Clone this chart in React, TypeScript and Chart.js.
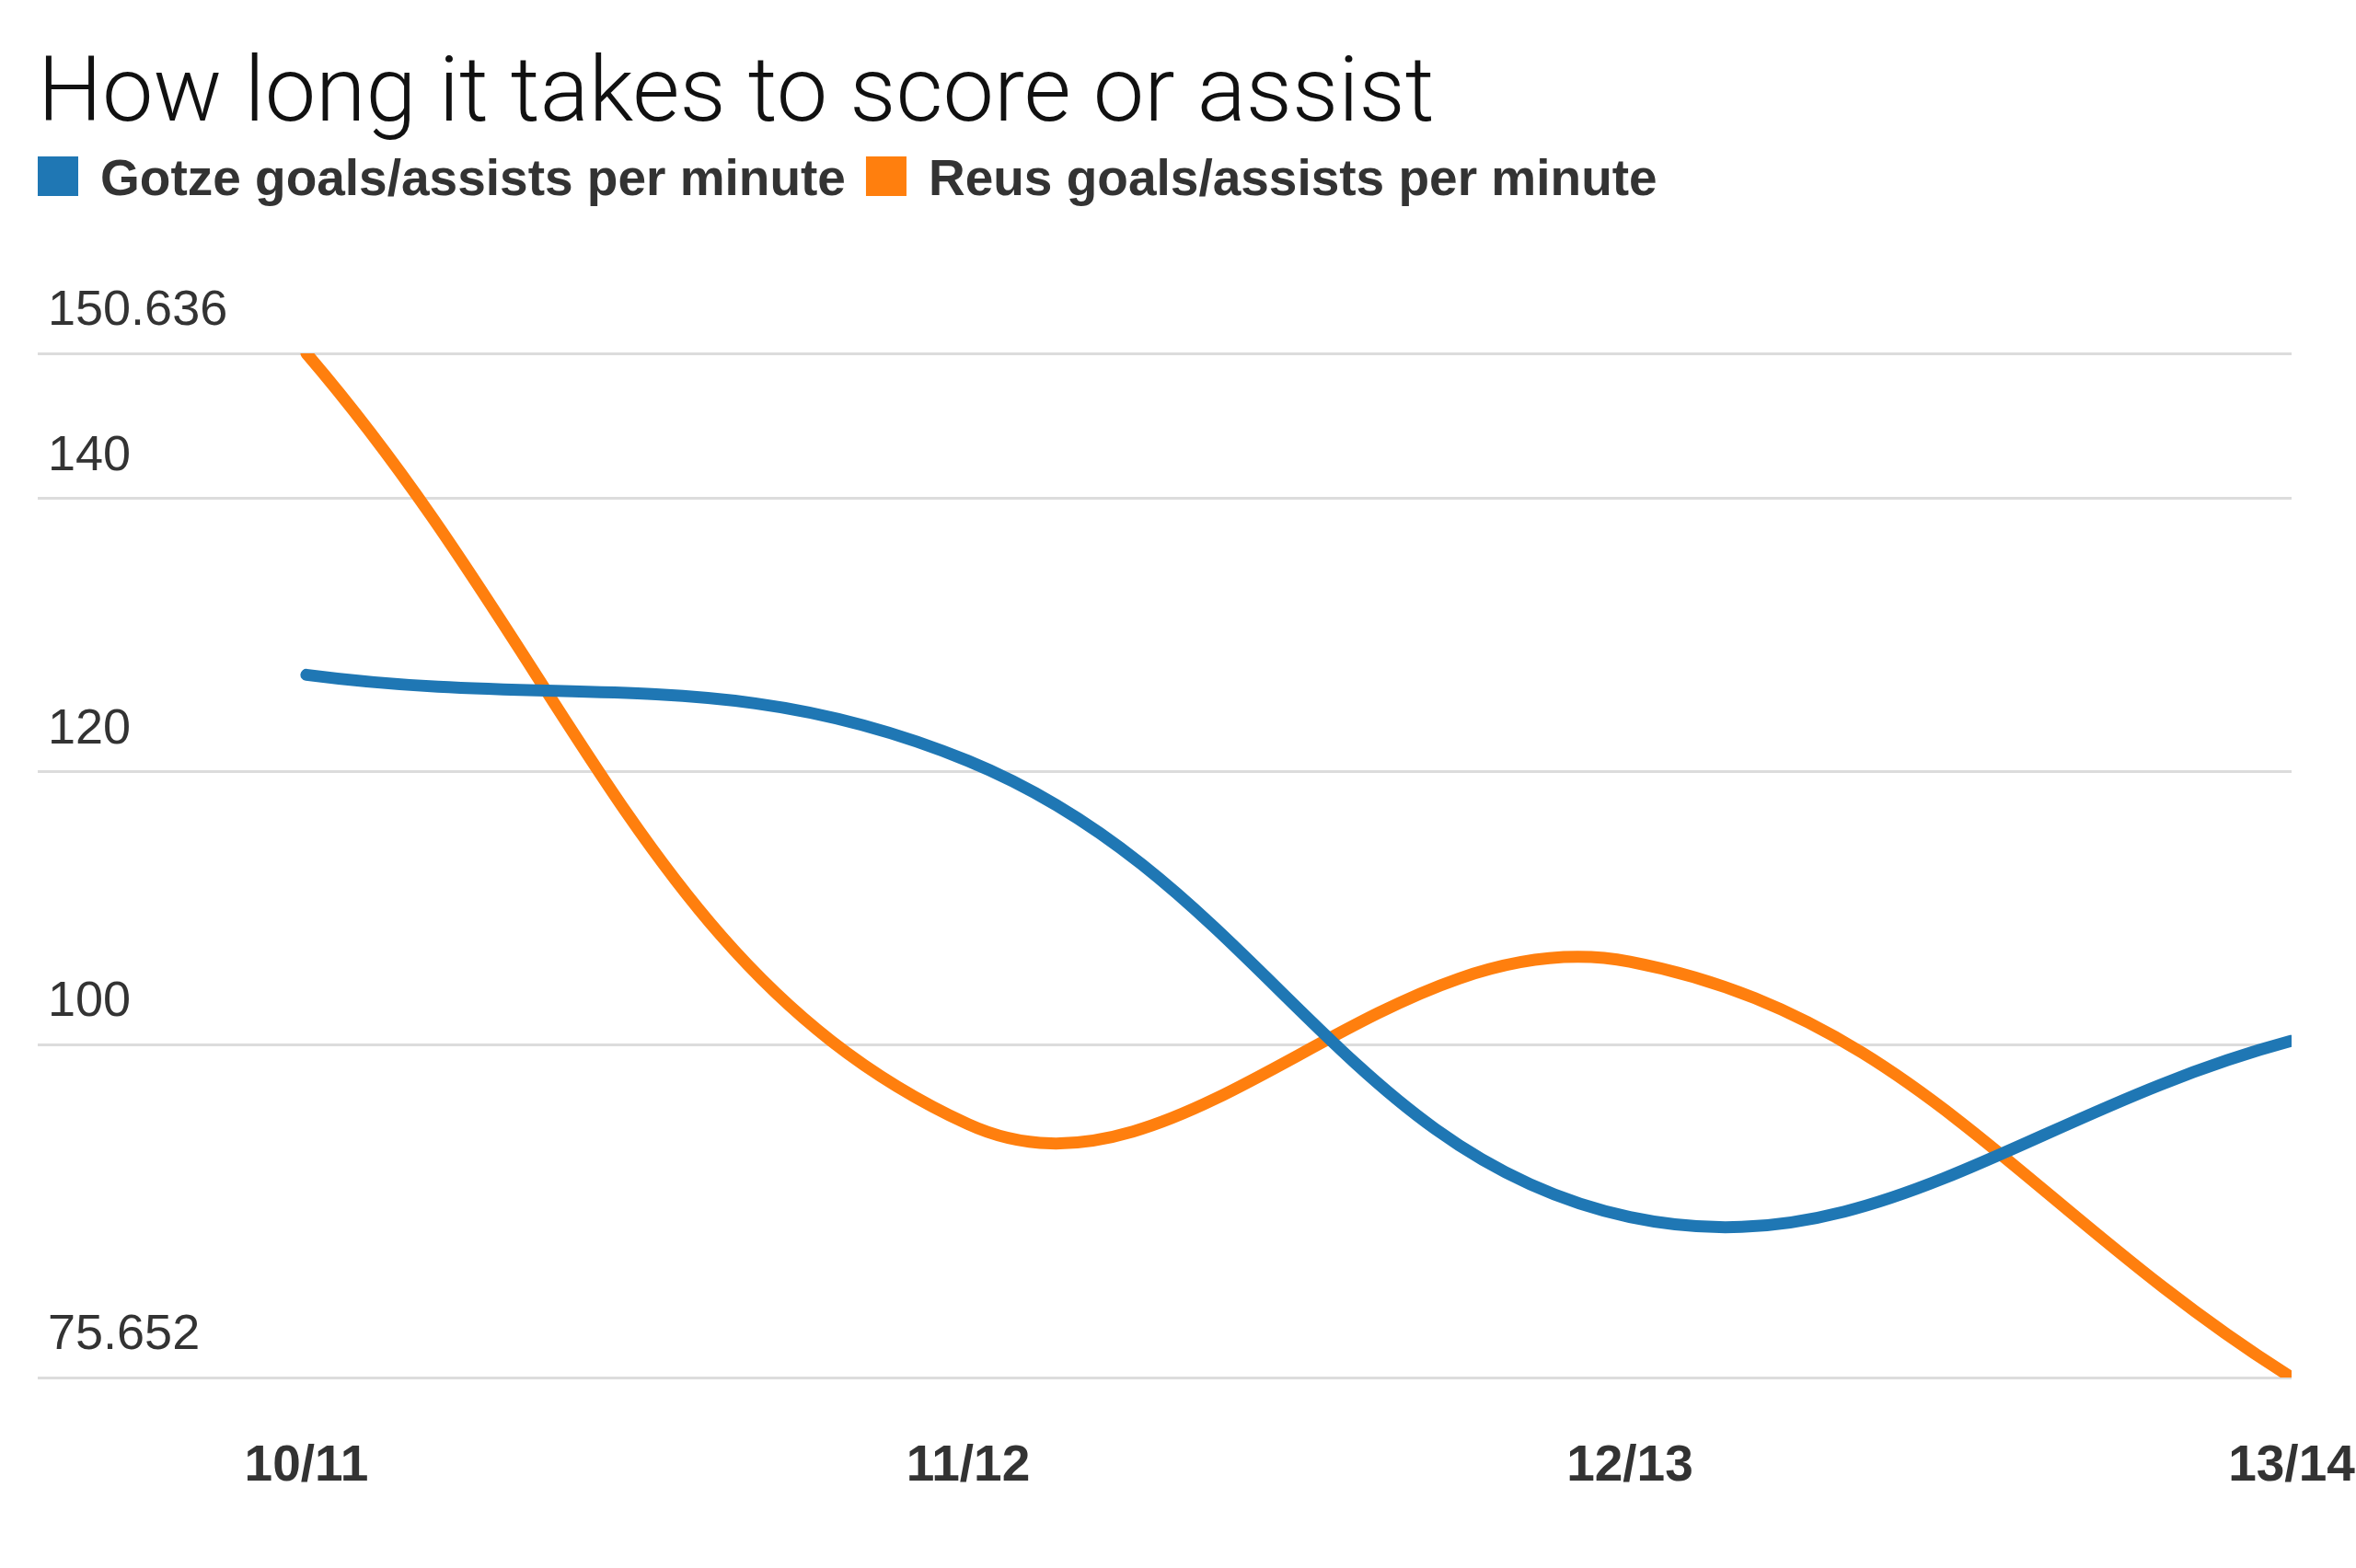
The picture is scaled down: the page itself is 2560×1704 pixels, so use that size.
import { useEffect, useRef } from 'react';
import { Chart, registerables } from 'chart.js';
import type { Plugin } from 'chart.js';

Chart.register(...registerables);

const TITLE = 'How long it takes to score or assist';
const SEASONS = ['10/11', '11/12', '12/13', '13/14'];
const GOTZE = [127.1, 120.8, 87.4, 100.3];
const REUS = [150.636, 94.2, 106.1, 75.652];
const Y_TICKS = [75.652, 100, 120, 140, 150.636];
const SERIES_NAMES = ['Gotze goals/assists per minute', 'Reus goals/assists per minute'];

// title + legend drawn in the top padding, left aligned with the grid
const headerPlugin: Plugin<'line'> = {
  id: 'header',
  afterDraw(chart) {
    const { ctx, chartArea } = chart;
    const left = chartArea.left;
    ctx.save();
    ctx.textBaseline = 'alphabetic';
    ctx.textAlign = 'left';
    ctx.fillStyle = '#111';
    ctx.font = '300 99px Roboto, "Liberation Sans", sans-serif';
    ctx.fillText(TITLE, left, 131);

    ctx.font = 'bold 55px "Liberation Sans", Arial, sans-serif';
    let x = left;
    chart.data.datasets.forEach((ds) => {
      ctx.fillStyle = ds.borderColor as string;
      ctx.fillRect(x, 170, 44, 43);
      x += 44 + 24;
      ctx.fillStyle = '#333';
      ctx.fillText(ds.label as string, x, 212);
      x += ctx.measureText(ds.label as string).width + 22;
    });
    ctx.restore();
  },
};

export default function App() {
  const canvasRef = useRef<HTMLCanvasElement>(null);
  const chartRef = useRef<Chart | null>(null);

  useEffect(() => {
    document.body.style.margin = '0';
    if (!canvasRef.current) return;
    if (chartRef.current) chartRef.current.destroy();

    chartRef.current = new Chart(canvasRef.current, {
      type: 'line',
      data: {
        datasets: [
          {
            label: SERIES_NAMES[0],
            data: GOTZE.map((y, i) => ({ x: i, y })),
            borderColor: '#1f77b4',
            backgroundColor: '#1f77b4',
            borderWidth: 13,
            tension: 0.4,
            pointRadius: 0,
            borderCapStyle: 'round',
            borderJoinStyle: 'round',
          },
          {
            label: SERIES_NAMES[1],
            data: REUS.map((y, i) => ({ x: i, y })),
            borderColor: '#ff7f0e',
            backgroundColor: '#ff7f0e',
            borderWidth: 13,
            tension: 0.4,
            pointRadius: 0,
            borderCapStyle: 'round',
            borderJoinStyle: 'round',
          },
        ],
      },
      options: {
        animation: false,
        responsive: true,
        maintainAspectRatio: false,
        layout: {
          padding: { top: 384, left: 41, right: 70, bottom: 77 },
        },
        plugins: {
          legend: { display: false },
          title: { display: false },
          tooltip: { enabled: false },
        },
        scales: {
          x: {
            type: 'linear',
            min: -0.406,
            max: 3,
            afterBuildTicks: (scale) => {
              scale.ticks = SEASONS.map((_, i) => ({ value: i }));
            },
            // invisible tick marks keep the labels away from the plot
            grid: { display: false, drawTicks: true, tickLength: 64 },
            border: { display: false },
            ticks: {
              padding: 0,
              color: '#333',
              font: { family: '"Liberation Sans", Arial, sans-serif', size: 55, weight: 'bold' },
              callback: (v) => SEASONS[Number(v)] ?? '',
              maxRotation: 0,
              autoSkip: false,
            },
          },
          y: {
            min: Y_TICKS[0],
            max: Y_TICKS[Y_TICKS.length - 1],
            afterBuildTicks: (scale) => {
              scale.ticks = Y_TICKS.map((value) => ({ value }));
            },
            afterFit: (scale) => {
              scale.width = 0;
            },
            grid: { color: '#dcdcdc', lineWidth: 3, drawTicks: false },
            border: { display: false },
            ticks: {
              mirror: true,
              padding: 11,
              labelOffset: -46,
              color: '#333',
              font: { family: '"Liberation Sans", Arial, sans-serif', size: 54 },
              callback: (v) => String(v),
            },
          },
        },
      },
      plugins: [headerPlugin],
    });

    return () => {
      if (chartRef.current) {
        chartRef.current.destroy();
        chartRef.current = null;
      }
    };
  }, []);

  return (
    <div style={{ width: 2560, height: 1704, background: '#fff', position: 'relative' }}>
      <canvas ref={canvasRef} />
    </div>
  );
}
